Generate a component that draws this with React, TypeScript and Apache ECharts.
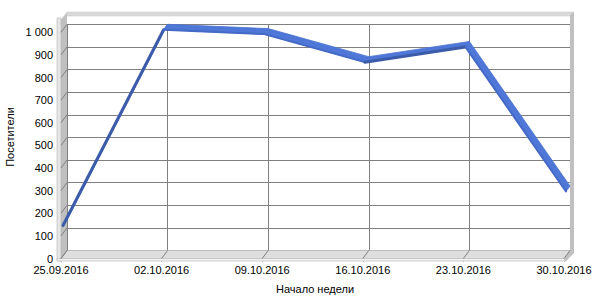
import React, { useEffect, useRef } from "react";
import * as echarts from "echarts";

const categories = ["25.09.2016", "02.10.2016", "09.10.2016", "16.10.2016", "23.10.2016", "30.10.2016"];
const visitors = [135, 1000, 981, 857, 924, 285];
const yTickLabels = ["0", "100", "200", "300", "400", "500", "600", "700", "800", "900", "1 000"];
const yTitle = "Посетители";
const xTitle = "Начало недели";

const FONT = "Liberation Sans, Arial, sans-serif";
// depth offset between back wall and front edge
const DX = -6;
const DY = 8;
// ribbon front-edge offset (relative to back wall)
const RX = -4;
const RY = 5.5;

export default function App() {
  const ref = useRef<HTMLDivElement>(null);
  useEffect(() => {
    if (!ref.current) return;
    const chart = echarts.init(ref.current, undefined, { renderer: "svg" });
    const segData = visitors.slice(0, -1).map((v, i) => [i, v, visitors[i + 1]]);

    const walls: any[] = [
      // back wall top edge (thickness)
      { type: "polygon", shape: { points: [[61, 20], [67, 12], [574, 12], [570, 16], [67, 16]] }, style: { fill: "#d9d9d9", stroke: "#c8c8c8", lineWidth: 0.5 }, z: 1 },
      // left wall
      { type: "polygon", shape: { points: [[61, 20], [67, 13], [67, 250.5], [61, 258.5]] }, style: { fill: "#c0c0c0" }, z: 1 },
      { type: "polygon", shape: { points: [[57, 18], [61, 18], [61, 261], [57, 261]] }, style: { fill: "#e6e6e6", stroke: "#b4b4b4", lineWidth: 0.6 }, z: 1 },
      // right wall edge
      { type: "polygon", shape: { points: [[570, 15], [574, 12], [574, 253], [566, 261], [564, 258.5], [570, 250.5]] }, style: { fill: "#c0c0c0" }, z: 1 },
      // floor
      { type: "polygon", shape: { points: [[67, 250.5], [570, 250.5], [564, 258.5], [61, 258.5]] }, style: { fill: "#dedede", stroke: "#c4c4c4", lineWidth: 0.6 }, z: 1 },
      { type: "polygon", shape: { points: [[57, 258.5], [564, 258.5], [566, 261], [57, 261]] }, style: { fill: "#f2f2f2", stroke: "#b4b4b4", lineWidth: 0.6 }, z: 1 },
      {
        type: "text", x: 10, y: 137, rotation: Math.PI / 2,
        style: { text: yTitle, fill: "#000", font: `11px ${FONT}`, textAlign: "center", textVerticalAlign: "middle" },
      },
      {
        type: "text", x: 315, y: 289,
        style: { text: xTitle, fill: "#000", font: `11px ${FONT}`, textAlign: "center", textVerticalAlign: "middle" },
      },
    ];

    const option: any = {
      animation: false,
      backgroundColor: "#ffffff",
      grid: [
        { left: 67, right: 30, top: 24.3, bottom: 49.5 },
        { left: 61, right: 36, top: 32.3, bottom: 41.5 },
      ],
      xAxis: [
        {
          type: "category", gridIndex: 0, data: categories, boundaryGap: false,
          axisLine: { show: false }, axisTick: { show: false }, axisLabel: { show: false },
          splitLine: { show: true, lineStyle: { color: "#808080", width: 1 } },
        },
        {
          type: "category", gridIndex: 1, data: categories, boundaryGap: false,
          axisLine: { show: false },
          axisTick: { show: true, length: 3, lineStyle: { color: "#808080" } },
          axisLabel: { show: true, margin: 6, color: "#000", fontSize: 11, fontFamily: FONT, interval: 0, hideOverlap: false },
          splitLine: { show: false },
        },
      ],
      yAxis: [
        {
          type: "value", gridIndex: 0, min: 0, max: 1000, interval: 100,
          axisLine: { show: false }, axisTick: { show: false }, axisLabel: { show: false },
          splitLine: { show: true, lineStyle: { color: "#808080", width: 1 } },
        },
        {
          type: "value", gridIndex: 1, min: 0, max: 1000, interval: 100,
          axisLine: { show: false },
          axisTick: { show: true, length: 4, lineStyle: { color: "#808080" } },
          axisLabel: {
            show: true, margin: 8, color: "#000", fontSize: 11, fontFamily: FONT,
            formatter: (_v: number, i: number) => yTickLabels[i],
          },
          splitLine: { show: false },
        },
      ],
      graphic: walls,
      series: [
        {
          type: "custom",
          xAxisIndex: 0,
          yAxisIndex: 0,
          data: segData,
          z: 5,
          renderItem: (params: any, api: any) => {
            const i = api.value(0);
            const v0 = api.value(1);
            const v1 = api.value(2);
            const p0 = api.coord([i, v0]);
            const p1 = api.coord([i + 1, v1]);
            const f0 = [p0[0] + RX, p0[1] + RY];
            const f1 = [p1[0] + RX, p1[1] + RY];
            const rising = v1 > v0;
            return {
              type: "group",
              children: [
                {
                  type: "polygon",
                  shape: { points: [[p0[0], p0[1]], [p1[0], p1[1]], f1, f0] },
                  style: { fill: "#4e77d8", stroke: "#4a72d2", lineWidth: 0.8 },
                },
                {
                  type: "line",
                  shape: { x1: f0[0], y1: f0[1], x2: f1[0], y2: f1[1] },
                  style: { stroke: rising ? "#3c5caa" : "#4569c6", lineWidth: rising ? 3 : 2, lineCap: "round" },
                },
              ],
            };
          },
        },
      ],
    };
    chart.setOption(option);

    // diagonal lines on the side wall / floor joining front ticks with the back wall
    const extra: any[] = [];
    yTickLabels.forEach((_l, k) => {
      const yb = chart.convertToPixel({ yAxisIndex: 0 }, k * 100) as number;
      extra.push({ type: "line", shape: { x1: 67, y1: yb, x2: 67 + DX, y2: yb + DY }, style: { stroke: "#808080", lineWidth: 1 }, z: 2 });
    });
    categories.forEach((_c, k) => {
      const xb = chart.convertToPixel({ xAxisIndex: 0 }, k) as number;
      extra.push({ type: "line", shape: { x1: xb, y1: 250.5, x2: xb + DX, y2: 250.5 + DY }, style: { stroke: "#808080", lineWidth: 1 }, z: 2 });
    });
    chart.setOption({ graphic: [...walls, ...extra] });

    return () => chart.dispose();
  }, []);
  return <div ref={ref} style={{ position: "fixed", left: 0, top: 0, width: 600, height: 300 }} />;
}
